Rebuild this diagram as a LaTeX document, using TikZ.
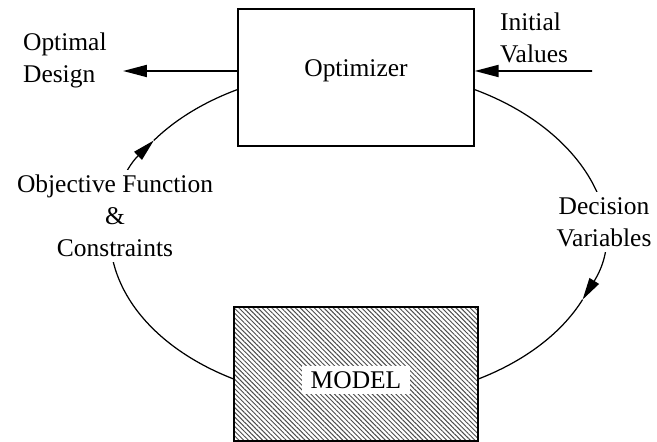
\documentclass[tikz,border=0pt]{standalone}
\usepackage{fontspec}
\setmainfont{Liberation Serif}
\usetikzlibrary{arrows.meta, patterns.meta}

\begin{document}
\begin{tikzpicture}[x=0.02cm, y=0.02cm,
  every node/.style={font=\fontsize{14.5}{18.2}\selectfont},
  box/.style={draw, line width=0.8pt, minimum width=4.72cm, minimum height=2.74cm},
  hatched/.style={draw, line width=0.8pt, minimum width=4.88cm, minimum height=2.68cm,
    pattern={Lines[angle=-45, distance=1.9pt, line width=0.55pt]}, pattern color=black!70},
  lbl/.style={align=center, inner sep=1pt},
  flow/.style={line width=1.1pt, -{Triangle[length=0.48cm, width=0.24cm]}},
  loop/.style={line width=0.7pt},
  tip/.style={-{Triangle[length=0.44cm, width=0.22cm]}}]
\useasboundingbox (0,0) rectangle (657,442);
% Optimizer on top, model below
\node[box, label={[name=optlbl, yshift=0.14cm]center:Optimizer}] (opt) at (356,364.5) {};
\node[hatched] (model) at (356,68) {};
\node[fill=white, inner xsep=5pt, inner ysep=3pt] (mtext) at (356,62) {MODEL};
% Values in and design out
\coordinate (design tip) at (123,371);
\coordinate (start) at (592,371);
\draw[flow] ([yshift=0.13cm]opt.west) -- (design tip);
\draw[flow] (start) -- ([yshift=0.13cm]opt.east);
\node[lbl, align=left, anchor=west] (design) at (21,382) {Optimal\\Design};
\node[lbl, align=left, anchor=west] (init) at (498,404) {Initial\\Values};
% Loop between the two boxes, an ellipse round the middle
\coordinate (mid) at (356,207);
\draw[loop, tip] (mid) ++(61.2:246 and 166) arc[start angle=61.2, end angle=-22.9, x radius=246, y radius=166] coordinate (dv);
\draw[loop] (dv) arc[start angle=-22.9, end angle=-60.4, x radius=246, y radius=166];
\draw[loop, tip] (mid) ++(240.4:246 and 166) arc[start angle=240.4, end angle=145.3, x radius=246, y radius=166] coordinate (of);
\draw[loop] (of) arc[start angle=145.3, end angle=118.6, x radius=246, y radius=166];
% Labels sit on the loop
\node[lbl, fill=white, inner sep=3pt] (obj) at (115,226) {Objective Function\\\&\\Constraints};
\node[lbl, fill=white, inner sep=3pt] (dec) at (604,220) {Decision\\Variables};
\end{tikzpicture}
\end{document}
